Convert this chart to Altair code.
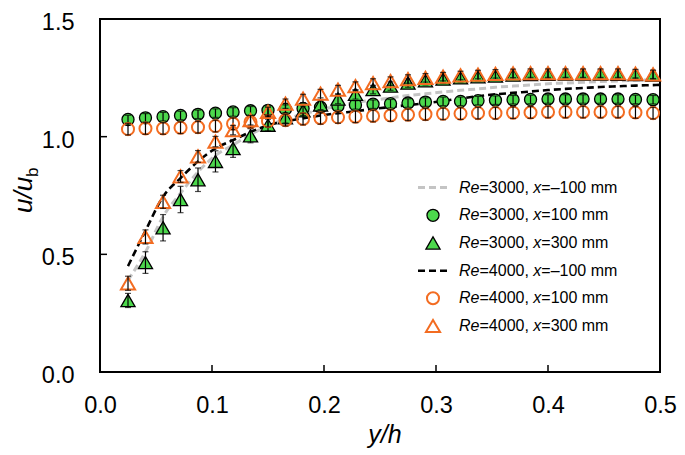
import altair as alt
import pandas as pd

# ---------------- data ----------------
xpos = [0.025, 0.0406, 0.0563, 0.0719, 0.0875, 0.1031, 0.1188, 0.1344, 0.15, 0.1656,
        0.1813, 0.1969, 0.2125, 0.2281, 0.2438, 0.2594, 0.275, 0.2906, 0.3063, 0.3219,
        0.3375, 0.3531, 0.3688, 0.3844, 0.4, 0.4156, 0.4313, 0.4469, 0.4625, 0.4781, 0.4938]
line_x = xpos + [0.5]

# Re=3000, x=-100 mm (grey dashed)
re3000_m100 = [0.39, 0.51, 0.66, 0.76, 0.85, 0.92, 0.965, 1.01, 1.045, 1.075,
               1.095, 1.115, 1.13, 1.145, 1.155, 1.165, 1.175, 1.182, 1.19, 1.197,
               1.203, 1.21, 1.215, 1.22, 1.225, 1.228, 1.231, 1.234, 1.237, 1.24, 1.242, 1.243]
# Re=4000, x=-100 mm (black dashed)
re4000_m100 = [0.45, 0.60, 0.745, 0.824, 0.895, 0.95, 0.985, 1.02, 1.048, 1.065,
               1.078, 1.09, 1.10, 1.108, 1.118, 1.126, 1.134, 1.142, 1.152, 1.162,
               1.172, 1.18, 1.186, 1.192, 1.198, 1.203, 1.207, 1.211, 1.214, 1.217, 1.219, 1.22]
# Re=3000, x=100 mm (green circles)
re3000_100 = [1.073, 1.080, 1.085, 1.090, 1.095, 1.100, 1.105, 1.110, 1.112, 1.117,
              1.120, 1.125, 1.130, 1.135, 1.138, 1.140, 1.143, 1.147, 1.150, 1.150,
              1.153, 1.155, 1.157, 1.158, 1.160, 1.160, 1.160, 1.160, 1.160, 1.158, 1.157]
err3000_100 = [0.018, 0.018, 0.018, 0.018, 0.018, 0.018, 0.018, 0.018, 0.018, 0.018,
               0.018, 0.018, 0.018, 0.018, 0.018, 0.018, 0.018, 0.018, 0.018, 0.018,
               0.018, 0.018, 0.018, 0.018, 0.018, 0.018, 0.018, 0.018, 0.018, 0.018, 0.018]
# Re=3000, x=300 mm (green triangles)
re3000_300 = [0.304, 0.465, 0.613, 0.733, 0.817, 0.895, 0.950, 1.004, 1.049, 1.080,
              1.110, 1.135, 1.160, 1.180, 1.200, 1.215, 1.228, 1.238, 1.245, 1.250,
              1.255, 1.258, 1.262, 1.264, 1.265, 1.266, 1.266, 1.266, 1.265, 1.264, 1.262]
err3000_300 = [0.03, 0.046, 0.056, 0.056, 0.05, 0.045, 0.038, 0.03, 0.025, 0.022,
               0.02, 0.02, 0.02, 0.02, 0.018, 0.018, 0.018, 0.018, 0.018, 0.018,
               0.018, 0.018, 0.018, 0.018, 0.018, 0.018, 0.018, 0.018, 0.018, 0.018, 0.018]
# Re=4000, x=100 mm (orange open circles)
re4000_100 = [1.032, 1.035, 1.035, 1.038, 1.040, 1.045, 1.055, 1.062, 1.066, 1.070,
              1.075, 1.078, 1.082, 1.085, 1.088, 1.090, 1.093, 1.095, 1.097, 1.098,
              1.100, 1.100, 1.102, 1.103, 1.105, 1.105, 1.105, 1.105, 1.105, 1.103, 1.100]
err4000_100 = [0.025, 0.025, 0.025, 0.025, 0.025, 0.025, 0.025, 0.025, 0.025, 0.025,
               0.025, 0.025, 0.025, 0.025, 0.025, 0.025, 0.025, 0.025, 0.025, 0.025,
               0.025, 0.025, 0.025, 0.025, 0.025, 0.025, 0.025, 0.025, 0.025, 0.025, 0.025]
# Re=4000, x=300 mm (orange open triangles)
re4000_300 = [0.377, 0.574, 0.723, 0.831, 0.916, 0.979, 1.028, 1.070, 1.105, 1.140,
              1.162, 1.183, 1.200, 1.215, 1.228, 1.236, 1.245, 1.250, 1.255, 1.260,
              1.264, 1.267, 1.269, 1.270, 1.270, 1.270, 1.270, 1.270, 1.270, 1.268, 1.265]
err4000_300 = [0.03, 0.03, 0.028, 0.025, 0.025, 0.022, 0.02, 0.02, 0.02, 0.02,
               0.018, 0.018, 0.018, 0.018, 0.018, 0.018, 0.018, 0.018, 0.018, 0.018,
               0.018, 0.018, 0.018, 0.018, 0.018, 0.018, 0.018, 0.018, 0.018, 0.018, 0.018]

x_ticks = [0.0, 0.1, 0.2, 0.3, 0.4, 0.5]
y_ticks = [0.0, 0.5, 1.0, 1.5]

legend_labels = [("3000", "\u2013100 mm"), ("3000", "100 mm"), ("3000", "300 mm"),
                 ("4000", "\u2013100 mm"), ("4000", "100 mm"), ("4000", "300 mm")]

# ---------------- style ----------------
GREEN = "#4CD84C"
ORANGE = "#F36C21"
GREY = "#C4C4C4"
FONT = "Liberation Sans"
W, H = 560, 353
CIRC, TRI = 145, 200
LFS = 23.5

xs = alt.Scale(domain=[0, 0.5], nice=False, zero=False)
ys = alt.Scale(domain=[0, 1.5], nice=False, zero=False)
xaxis = alt.Axis(values=x_ticks, format=".1f", title=None, grid=False, ticks=False, domain=False,
                 labelFontSize=LFS, labelFont=FONT, labelColor="black", labelPadding=21,
                 labelFlush=False, labelOverlap=False, labelBound=False)
yaxis = alt.Axis(values=y_ticks, format=".1f", title=None, grid=False, ticks=False, domain=False,
                 labelFontSize=LFS, labelFont=FONT, labelColor="black", labelPadding=26,
                 labelOffset=3.5,
                 labelFlush=False, labelOverlap=False, labelBound=False)
X = alt.X("x:Q", scale=xs, axis=xaxis)
Y = alt.Y("y:Q", scale=ys, axis=yaxis)


def line_df(vals):
    return pd.DataFrame({"x": line_x, "y": vals})


def pt_df(vals, errs):
    return pd.DataFrame({"x": xpos, "y": vals,
                         "lo": [v - e for v, e in zip(vals, errs)],
                         "hi": [v + e for v, e in zip(vals, errs)]})


layers = []
# dashed lines (x = -100 mm)
layers.append(alt.Chart(line_df(re3000_m100)).mark_line(
    color=GREY, strokeWidth=3, strokeDash=[7, 4], interpolate="monotone").encode(x=X, y=Y))
layers.append(alt.Chart(line_df(re4000_m100)).mark_line(
    color="black", strokeWidth=2.6, strokeDash=[7, 4], interpolate="monotone").encode(x=X, y=Y))


def series(vals, errs, shape, filled, color, size):
    d = pt_df(vals, errs)
    base = alt.Chart(d)
    if filled:
        pts = base.mark_point(shape=shape, filled=True, fill=color, stroke="black",
                              strokeWidth=1.3, size=size, opacity=1)
    else:
        pts = base.mark_point(shape=shape, filled=False, stroke=color, fillOpacity=0,
                              strokeWidth=2, size=size, opacity=1)
    out = [pts.encode(x=X, y=Y)]
    out.append(base.mark_rule(color="black", strokeWidth=1.2).encode(
        x=X, y=alt.Y("lo:Q", scale=ys, axis=yaxis), y2="hi:Q"))
    out.append(base.mark_tick(color="black", orient="horizontal", size=6, thickness=1.2).encode(
        x=X, y=alt.Y("lo:Q", scale=ys, axis=yaxis)))
    out.append(base.mark_tick(color="black", orient="horizontal", size=6, thickness=1.2).encode(
        x=X, y=alt.Y("hi:Q", scale=ys, axis=yaxis)))
    return out


layers += series(re3000_100, err3000_100, "circle", True, GREEN, CIRC)
layers += series(re3000_300, err3000_300, "triangle-up", True, GREEN, TRI)
layers += series(re4000_100, err4000_100, "circle", False, ORANGE, CIRC)
layers += series(re4000_300, err4000_300, "triangle-up", False, ORANGE, TRI)

# inward ticks
layers.append(alt.Chart(pd.DataFrame({"x": x_ticks})).mark_rule(color="black", strokeWidth=1.5).encode(
    x=X, y=alt.value(H), y2=alt.value(H - 7)))
layers.append(alt.Chart(pd.DataFrame({"y": y_ticks})).mark_rule(color="black", strokeWidth=1.5).encode(
    y=Y, x=alt.value(0), x2=alt.value(7)))

# axis titles (rich text)
one = pd.DataFrame({"a": [0]})
layers.append(alt.Chart(one).mark_text(text="y/h", font=FONT, fontSize=25, fontStyle="italic",
                                       align="center", baseline="alphabetic", color="black").encode(
    x=alt.value(285), y=alt.value(424)))
layers.append(alt.Chart(one).mark_text(text="u/u", font=FONT, fontSize=26, fontStyle="italic",
                                       align="left", baseline="alphabetic", angle=270, color="black").encode(
    x=alt.value(-68), y=alt.value(194)))
layers.append(alt.Chart(one).mark_text(text="b", font=FONT, fontSize=17,
                                       align="left", baseline="alphabetic", angle=270, color="black").encode(
    x=alt.value(-62), y=alt.value(158)))

# manual legend
row_y = [168.6, 196.3, 224.0, 251.7, 279.3, 307.0]
sym_x, txt_x, fs = 333, 359, 16
for i, (re, xl) in enumerate(legend_labels):
    yv = row_y[i]
    if i == 0:
        layers.append(alt.Chart(one).mark_rule(color=GREY, strokeWidth=3, strokeDash=[7, 4]).encode(
            x=alt.value(sym_x - 15), x2=alt.value(sym_x + 14), y=alt.value(yv)))
    elif i == 3:
        layers.append(alt.Chart(one).mark_rule(color="black", strokeWidth=2.6, strokeDash=[7, 4]).encode(
            x=alt.value(sym_x - 15), x2=alt.value(sym_x + 14), y=alt.value(yv)))
    else:
        shape = "circle" if i in (1, 4) else "triangle-up"
        size = CIRC if shape == "circle" else TRI
        if i < 3:
            m = alt.Chart(one).mark_point(shape=shape, filled=True, fill=GREEN, stroke="black",
                                          strokeWidth=1.3, size=size, opacity=1)
        else:
            m = alt.Chart(one).mark_point(shape=shape, filled=False, stroke=ORANGE, fillOpacity=0,
                                          strokeWidth=2, size=size, opacity=1)
        layers.append(m.encode(x=alt.value(sym_x), y=alt.value(yv)))
    frags = [("Re", "italic", 0.0), ("=" + re + ",", "normal", 20.5),
             ("x", "italic", 20.5 + 53.8), ("=" + xl, "normal", 20.5 + 53.8 + 8.0)]
    for t, st, off in frags:
        layers.append(alt.Chart(one).mark_text(text=t, font=FONT, fontSize=fs, fontStyle=st,
                                               align="left", baseline="middle", color="black").encode(
            x=alt.value(txt_x + off), y=alt.value(yv)))

chart = alt.layer(*layers).properties(
    width=W, height=H,
    autosize=alt.AutoSizeParams(type="none"),
    padding={"left": 92, "top": 11, "right": 17, "bottom": 83},
    background="white",
).configure_view(stroke="black", strokeWidth=2).configure_axis(labelFont=FONT)

chart.save("out.html", embed_options={"renderer": "svg", "actions": False})
